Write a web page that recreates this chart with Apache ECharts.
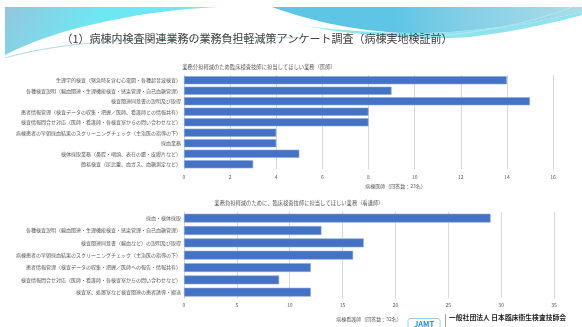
<!DOCTYPE html>
<html>
<head>
<meta charset="utf-8">
<script src="https://cdn.jsdelivr.net/npm/echarts@6/dist/echarts.min.js"></script>
<style>
  html, body { margin: 0; padding: 0; background: #ffffff; }
  #chart { width: 582px; height: 327px; }
</style>
</head>
<body>
<div id="chart"></div>
<script>
// 医師向けアンケート
const doctorTasks = [
  '生理学的検査（緊急時を含む心電図・各種超音波検査）',
  '各種検査説明（輸血関連・生理機能検査・感染管理・自己血糖管理）',
  '検査関連同意書の説明及び取得',
  '患者情報管理（検査データの収集・把握／医師、看護師との情報共有）',
  '検査情報問合せ対応（医師・看護師・各検査室からの問い合わせなど）',
  '病棟患者の早朝採血結果のスクリーニングチェック（主治医の指導の下）',
  '採血業務',
  '検体採取業務（鼻腔・咽頭、表在の膿・皮膚片など）',
  '簡易検査（尿比重、血ガス、血糖測定など）'
];
const doctorCounts = [14, 9, 15, 8, 8, 4, 4, 5, 3];
const doctorTicks = [0, 2, 4, 6, 8, 10, 12, 14, 16];

// 看護師向けアンケート
const nurseTasks = [
  '採血・検体採取',
  '各種検査説明（輸血関連・生理機能検査・感染管理・自己血糖管理）',
  '検査関連同意書（輸血など）の説明及び取得',
  '病棟患者の早朝採血結果のスクリーニングチェック（主治医の指導の下）',
  '患者情報管理（検査データの収集・把握／医師への報告・情報共有）',
  '検査情報問合せ対応（医師・看護師・各検査室からの問い合わせなど）',
  '検査室、処置室など検査関連の患者誘導・搬送'
];
const nurseCounts = [29, 13, 17, 16, 12, 9, 12];
const nurseTicks = [0, 5, 10, 15, 20, 25, 30, 35];

const FONT = '"Noto Sans CJK JP", "Noto Sans", sans-serif';
const BAR = '#4472c4';

// 装飾用の自由曲線シェイプ（M/L/C/Z のコマンド列を描く）
echarts.graphic.registerShape('freePath', echarts.graphic.extendShape({
  shape: { cmds: [] },
  buildPath: function (ctx, shape) {
    shape.cmds.forEach(function (c) {
      if (c[0] === 'M') ctx.moveTo(c[1], c[2]);
      else if (c[0] === 'L') ctx.lineTo(c[1], c[2]);
      else if (c[0] === 'C') ctx.bezierCurveTo(c[1], c[2], c[3], c[4], c[5], c[6]);
      else if (c[0] === 'Z') ctx.closePath();
    });
  }
}));

function grad(x, y, x2, y2, stops) {
  return { type: 'linear', x: x, y: y, x2: x2, y2: y2, colorStops: stops };
}

const chart = echarts.init(document.getElementById('chart'), null, { renderer: 'canvas' });

function xAxisFor(gridIndex, ticks, name, nameGap, margin, shift) {
  return {
    type: 'value',
    gridIndex: gridIndex,
    min: ticks[0],
    max: ticks[ticks.length - 1],
    interval: ticks[1] - ticks[0],
    name: name,
    nameLocation: 'middle',
    nameGap: nameGap,
    nameTextStyle: { fontFamily: FONT, fontSize: 5, color: '#595959', padding: [0, 0, 0, shift * 2] },
    axisLine: { show: false },
    axisTick: { show: false },
    axisLabel: { fontFamily: FONT, fontSize: 5, color: '#595959', margin: margin },
    splitLine: { show: true, lineStyle: { color: '#d9d9d9', width: 1 } }
  };
}

function yAxisFor(gridIndex, cats) {
  return {
    type: 'category',
    gridIndex: gridIndex,
    data: cats,
    inverse: true,
    axisLine: { show: true, lineStyle: { color: '#d9d9d9' } },
    axisTick: { show: false },
    axisLabel: { fontFamily: FONT, fontSize: 5, color: '#595959', margin: 3 }
  };
}

function barSeries(axisIndex, values, gap) {
  return {
    type: 'bar',
    xAxisIndex: axisIndex,
    yAxisIndex: axisIndex,
    data: values,
    barCategoryGap: gap,
    itemStyle: { color: BAR, borderColor: '#8fa9dc', borderWidth: 0.6 },
    silent: true
  };
}

chart.setOption({
  backgroundColor: '#ffffff',
  animation: false,
  textStyle: { fontFamily: FONT },
  title: [
    {
      text: '（1）病棟内検査関連業務の業務負担軽減策アンケート調査（病棟実地検証前）',
      left: 252, top: 28, textAlign: 'center',
      textStyle: { fontFamily: FONT, fontSize: 11, fontWeight: 'normal', color: '#404040' }
    },
    {
      text: '業務分担軽減のため臨床検査技師に担当してほしい業務（医師）',
      left: 254, top: 59, textAlign: 'center',
      textStyle: { fontFamily: FONT, fontSize: 5.3, fontWeight: 'normal', color: '#595959' }
    },
    {
      text: '業務負担軽減のために、臨床検査技師に担当してほしい業務（看護師）',
      left: 294, top: 195, textAlign: 'center',
      textStyle: { fontFamily: FONT, fontSize: 5.3, fontWeight: 'normal', color: '#595959' }
    }
  ],
  grid: [
    { left: 184, right: 29, top: 75, height: 94.5 },
    { left: 184, right: 28, top: 212, height: 86.4 }
  ],
  xAxis: [
    xAxisFor(0, doctorTicks, '病棟医師（回答数：23名）', 14, 5, 27),
    xAxisFor(1, nurseTicks, '病棟看護師（回答数：32名）', 18, 4.5, 0)
  ],
  yAxis: [
    yAxisFor(0, doctorTasks),
    yAxisFor(1, nurseTasks)
  ],
  series: [
    barSeries(0, doctorCounts, '22%'),
    barSeries(1, nurseCounts, '28%')
  ],
  graphic: [
    // ヘッダーの装飾帯（左）
    {
      type: 'freePath', z: -10, silent: true,
      shape: { cmds: [['M', 5, 7], ['L', 218, 7], ['C', 150, 10, 60, 26, 5, 55], ['Z']] },
      style: {
        fill: grad(0, 0, 0.3, 1, [
          { offset: 0, color: '#93c6dc' },
          { offset: 1, color: '#6fe6f3' }
        ])
      }
    },
    {
      type: 'freePath', z: -9, silent: true,
      shape: { cmds: [['M', 5, 58], ['C', 60, 42, 140, 36, 300, 38]] },
      style: { fill: null, stroke: '#9ccfd8', lineWidth: 0.8 }
    },
    // ヘッダーの装飾帯（右）
    {
      type: 'freePath', z: -10, silent: true,
      shape: { cmds: [['M', 300, 25], ['C', 360, 36, 420, 41, 470, 37], ['C', 520, 31, 560, 21, 582, 15],
        ['L', 582, 12], ['C', 540, 22, 470, 34, 410, 33], ['C', 350, 32, 320, 28, 300, 25], ['Z']] },
      style: { fill: '#8fe3ef' }
    },
    {
      type: 'freePath', z: -10, silent: true,
      shape: { cmds: [['M', 272, 7], ['L', 582, 7], ['L', 582, 12], ['C', 540, 22, 470, 34, 410, 33],
        ['C', 350, 32, 300, 17, 272, 7], ['Z']] },
      style: {
        fill: grad(1, 0, 0.4, 1, [
          { offset: 0, color: '#a9dde8' },
          { offset: 0.6, color: '#86cfe6' },
          { offset: 1, color: '#5ec5e6' }
        ])
      }
    },
    {
      type: 'freePath', z: -9, silent: true,
      shape: { cmds: [['M', 440, 36], ['C', 500, 30, 545, 18, 575, 6]] },
      style: { fill: null, stroke: '#c6eef4', lineWidth: 0.6 }
    },
    // ロゴ
    {
      type: 'rect', silent: true,
      shape: { x: 408, y: 318.5, width: 32, height: 12, r: 2 },
      style: { fill: '#ffffff', stroke: '#9ccbe9', lineWidth: 1 }
    },
    {
      type: 'text', silent: true,
      style: {
        x: 424, y: 324, text: 'JAMT', align: 'center', verticalAlign: 'middle',
        fontFamily: FONT, fontSize: 7.5, fontWeight: 'bold', fill: '#2b8fd3'
      }
    },
    {
      type: 'line', silent: true,
      shape: { x1: 445.5, y1: 314, x2: 445.5, y2: 327 },
      style: { stroke: '#7f7f7f', lineWidth: 0.7 }
    },
    {
      type: 'text', silent: true,
      style: {
        x: 449, y: 317.5, text: '一般社団法人 日本臨床衛生検査技師会', align: 'left', verticalAlign: 'middle',
        fontFamily: FONT, fontSize: 6.8, fontWeight: 'bold', fill: '#222222'
      }
    }
  ]
});
</script>
</body>
</html>
